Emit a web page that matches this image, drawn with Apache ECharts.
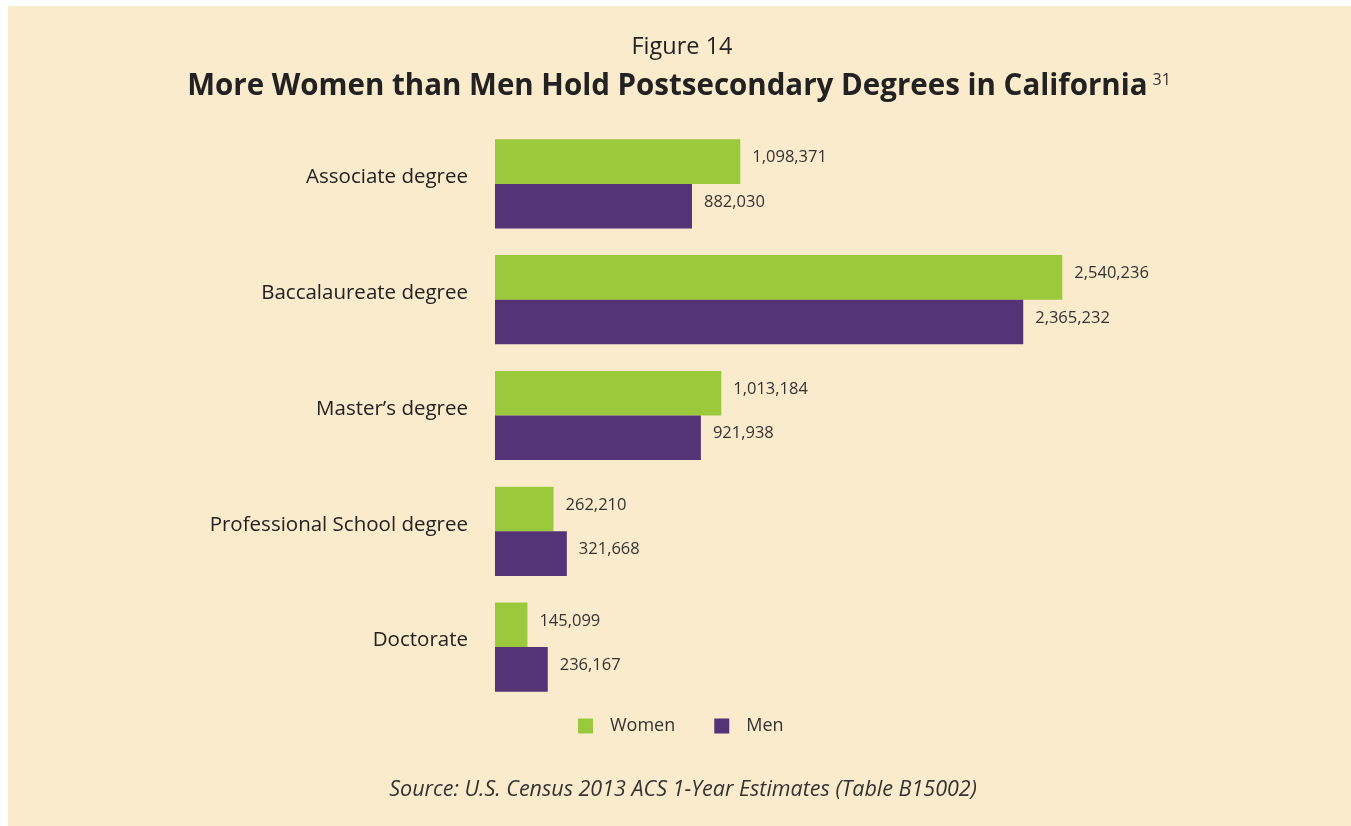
<!DOCTYPE html>
<html>
<head>
<meta charset="utf-8">
<script src="https://cdn.jsdelivr.net/npm/echarts@6/dist/echarts.min.js"></script>
<style>
  html, body { margin: 0; padding: 0; background: #ffffff; }
  #panel { position: absolute; left: 8px; top: 6px; width: 1343px; height: 820px; background: #faebcd; }
  #chart { width: 1343px; height: 820px; }
</style>
</head>
<body>
<div id="panel"><div id="chart"></div></div>
<script>
// degree types, top to bottom
const categories = ['Associate degree', 'Baccalaureate degree', "Master\u2019s degree", 'Professional School degree', 'Doctorate'];
const women = [1098371, 2540236, 1013184, 262210, 145099];
const men = [882030, 2365232, 921938, 321668, 236167];

const FONT = '"Open Sans", Lato, sans-serif';
const fmt = (v) => v.toLocaleString('en-US');

const chart = echarts.init(document.getElementById('chart'));

const labelStyle = {
    show: true,
    position: 'right',
    distance: 12,
    offset: [0, -4],
    color: '#333',
    fontSize: 16.5,
    fontFamily: FONT,
    formatter: (p) => fmt(p.value)
};

chart.setOption({
    animation: false,
    title: [
        {
            text: 'Figure 14',
            left: 669, top: 24, textAlign: 'center',
            textStyle: { fontFamily: FONT, fontSize: 23.5, fontWeight: 'normal', color: '#222' }
        },
        {
            text: '{t|More Women than Men Hold Postsecondary Degrees in California}{s|31}',
            left: 666, top: 61, textAlign: 'center',
            textStyle: {
                rich: {
                    t: { fontFamily: FONT, fontSize: 29.5, fontWeight: 'bold', color: '#222' },
                    s: { fontFamily: FONT, fontSize: 16, fontWeight: 'normal', color: '#333', verticalAlign: 'top', padding: [0, 0, 14, 5] }
                }
            }
        },
        {
            text: 'Source: U.S. Census 2013 ACS 1-Year Estimates (Table B15002)',
            left: 670, top: 768, textAlign: 'center',
            textStyle: { fontFamily: FONT, fontSize: 21.5, fontStyle: 'italic', fontWeight: 'normal', color: '#333' }
        }
    ],
    legend: {
        top: 706, left: 565,
        itemWidth: 15, itemHeight: 15, itemGap: 39,
        icon: 'rect',
        textStyle: { fontFamily: FONT, fontSize: 18, color: '#333', padding: [0, 0, 0, 12] },
        data: ['Women', 'Men']
    },
    grid: { left: 487, top: 120, width: 670, height: 579, containLabel: false },
    xAxis: {
        type: 'value', min: 0, max: 3000000,
        show: false
    },
    yAxis: {
        type: 'category', inverse: true,
        data: categories,
        axisLine: { show: false }, axisTick: { show: false },
        axisLabel: {
            margin: 27, fontFamily: FONT, fontSize: 20.5, color: '#222',
            verticalAlign: 'bottom', lineHeight: 13
        }
    },
    series: [
        {
            name: 'Women', type: 'bar', data: women,
            barGap: '0%', barCategoryGap: '23%',
            itemStyle: { color: '#9bc93c' },
            label: labelStyle
        },
        {
            name: 'Men', type: 'bar', data: men,
            itemStyle: { color: '#543476' },
            label: labelStyle
        }
    ]
});
</script>
</body>
</html>
